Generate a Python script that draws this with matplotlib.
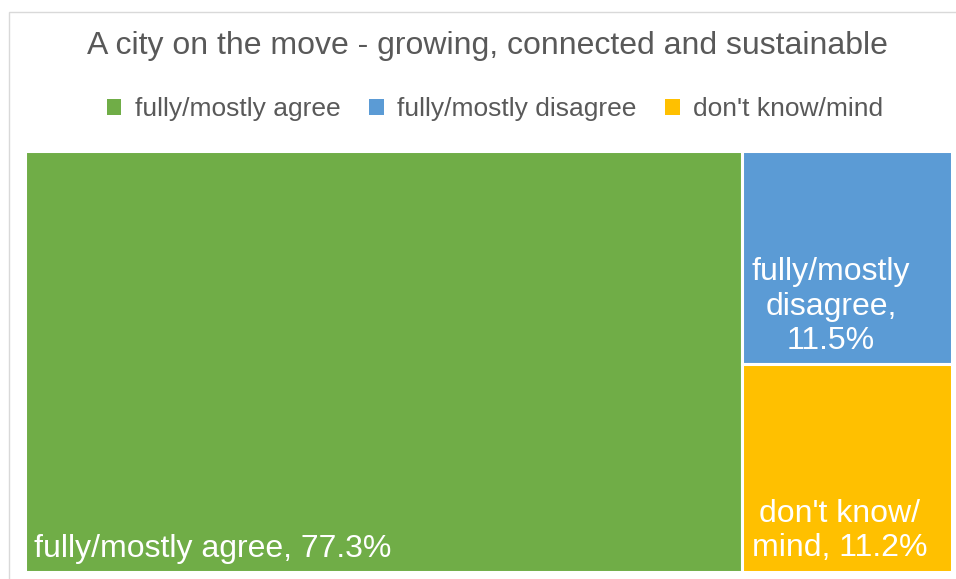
import matplotlib.pyplot as plt
from matplotlib.patches import Rectangle, Patch

plt.rcParams['font.family'] = ['Liberation Sans', 'DejaVu Sans']

title = "A city on the move - growing, connected and sustainable"
categories = ["fully/mostly agree", "fully/mostly disagree", "don't know/mind"]
values = [77.3, 11.5, 11.2]
box_labels = ["fully/mostly agree, 77.3%", "fully/mostly\ndisagree,\n11.5%", "don't know/\nmind, 11.2%"]
colors = ["#70AD47", "#5B9BD5", "#FFC000"]

W, H = 956, 579
fig = plt.figure(figsize=(W / 100, H / 100), dpi=100)

# light frame around the chart area (cut at right/bottom like the source)
fig.patches.append(Rectangle((9 / W, -0.05), 1.2, 1 - 12 / H + 0.05,
                             transform=fig.transFigure, fill=False,
                             edgecolor="#D9D9D9", linewidth=1.0))

ax = fig.add_axes([24.5 / W, 7.5 / H, 928 / W, 420 / H])
ax.set_xlim(0, 1)
ax.set_ylim(0, 1)
ax.axis("off")

# slice first item as a column, stack the rest in the remaining column
total = sum(values)
x0 = values[0] / total
rects = [(0, 0, x0, 1)]
rest = sum(values[1:])
top = 1.0
for v in values[1:]:
    h = v / rest
    rects.append((x0, top - h, 1 - x0, h))
    top -= h

for i, (x, y, w, h) in enumerate(rects):
    ax.add_patch(Rectangle((x, y), w, h, facecolor=colors[i],
                           edgecolor="white", linewidth=2.2))
    ax.annotate(box_labels[i], xy=(x, y), xytext=(10, 8),
                textcoords="offset pixels", ha="left", va="bottom",
                multialignment="center", color="white", fontsize=23,
                linespacing=1.2)

fig.text(487 / W, 1 - 46 / H, title, ha="center", va="center",
         fontsize=23, color="#595959")

handles = [Patch(facecolor=c, edgecolor="none") for c in colors]
fig.legend(handles, categories, loc="center", bbox_to_anchor=(495 / W, 1 - 109 / H),
           ncol=3, frameon=False, fontsize=19, labelcolor="#595959",
           handlelength=0.55, handleheight=0.55, handletextpad=0.5,
           columnspacing=1.1, borderpad=0)

fig.savefig("out.png", dpi=100)
